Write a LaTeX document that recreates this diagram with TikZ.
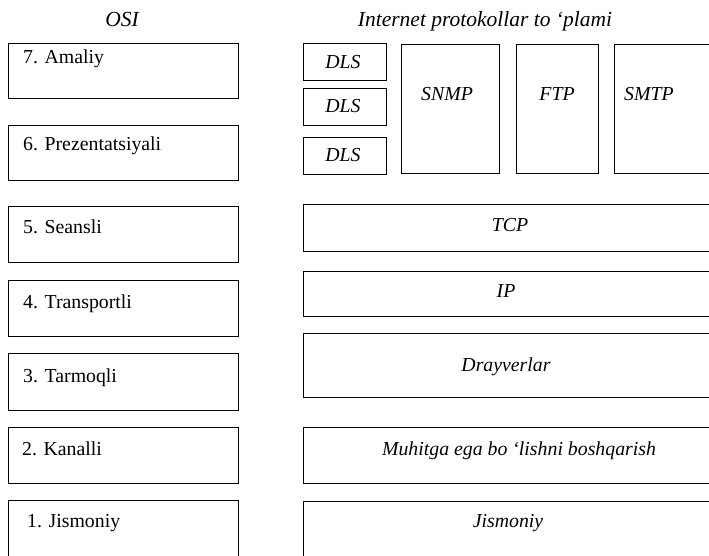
\documentclass[tikz,border=0pt]{standalone}
\usepackage{fontspec}
\setmainfont{Liberation Serif}
\begin{document}
\begin{tikzpicture}[x=1pt,y=-1pt,
  box/.style={draw=black, line width=1pt, rectangle, inner sep=0pt, outer sep=0pt},
  lbl/.style={font=\fontsize{19.8}{23}\selectfont, inner sep=0pt, anchor=base west},
  ilbl/.style={font=\fontsize{19.8}{23}\selectfont\itshape, inner sep=0pt, anchor=base},
  ttl/.style={font=\fontsize{21.5}{25}\selectfont\itshape, inner sep=0pt, anchor=base}]
\useasboundingbox (0,0) rectangle (709,555);
% titles
\node[ttl] (tosi) at (122,26) {OSI};
\node[ttl] (tinet) at (485,26) {Internet protokollar to ‘plami};
% OSI boxes
\node[box, minimum width=230pt, minimum height=55pt] (b7) at (123,70.5) {};
\node[box, minimum width=230pt, minimum height=55pt] (b6) at (123,152.5) {};
\node[box, minimum width=230pt, minimum height=56pt] (b5) at (123,234) {};
\node[box, minimum width=230pt, minimum height=56pt] (b4) at (123,308) {};
\node[box, minimum width=230pt, minimum height=57pt] (b3) at (123,381.5) {};
\node[box, minimum width=230pt, minimum height=56pt] (b2) at (123,455) {};
\node[box, minimum width=230pt, minimum height=64pt] (b1) at (123,532) {};
\node[lbl] (l7) at (23,63) {7. Amaliy};
\node[lbl] (l6) at (23,150) {6. Prezentatsiyali};
\node[lbl] (l5) at (23,233) {5. Seansli};
\node[lbl] (l4) at (23,308) {4. Transportli};
\node[lbl] (l3) at (23,382) {3. Tarmoqli};
\node[lbl] (l2) at (22,455) {2. Kanalli};
\node[lbl] (l1) at (27,527) {1. Jismoniy};
% Internet boxes
\node[box, minimum width=83pt, minimum height=37pt] (d1) at (344.5,61.5) {};
\node[box, minimum width=83pt, minimum height=37pt] (d2) at (344.5,106.5) {};
\node[box, minimum width=83pt, minimum height=37pt] (d3) at (344.5,155.5) {};
\node[box, minimum width=98pt, minimum height=129pt] (snmp) at (450,108.5) {};
\node[box, minimum width=82pt, minimum height=129pt] (ftp) at (557,108.5) {};
\node[box, minimum width=100pt, minimum height=129pt] (smtp) at (664,108.5) {};
\node[box, minimum width=411pt, minimum height=47pt] (tcp) at (508.5,227.5) {};
\node[box, minimum width=411pt, minimum height=45pt] (ip) at (508.5,293.5) {};
\node[box, minimum width=411pt, minimum height=64pt] (drv) at (508.5,365) {};
\node[box, minimum width=411pt, minimum height=56pt] (muh) at (508.5,455) {};
\node[box, minimum width=411pt, minimum height=64pt] (jis) at (508.5,533) {};
\node[ilbl] (ld1) at (343,68) {DLS};
\node[ilbl] (ld2) at (343,112) {DLS};
\node[ilbl] (ld3) at (343,161) {DLS};
\node[ilbl] (lsnmp) at (447,100) {SNMP};
\node[ilbl] (lftp) at (557,100) {FTP};
\node[ilbl, anchor=base west] (lsmtp) at (624,100) {SMTP};
\node[ilbl] (ltcp) at (510,231) {TCP};
\node[ilbl] (lip) at (506,297) {IP};
\node[ilbl] (ldrv) at (506,371) {Drayverlar};
\node[ilbl] (lmuh) at (519,455) {Muhitga ega bo ‘lishni boshqarish};
\node[ilbl] (ljis) at (508,527) {Jismoniy};
\end{tikzpicture}
\end{document}
